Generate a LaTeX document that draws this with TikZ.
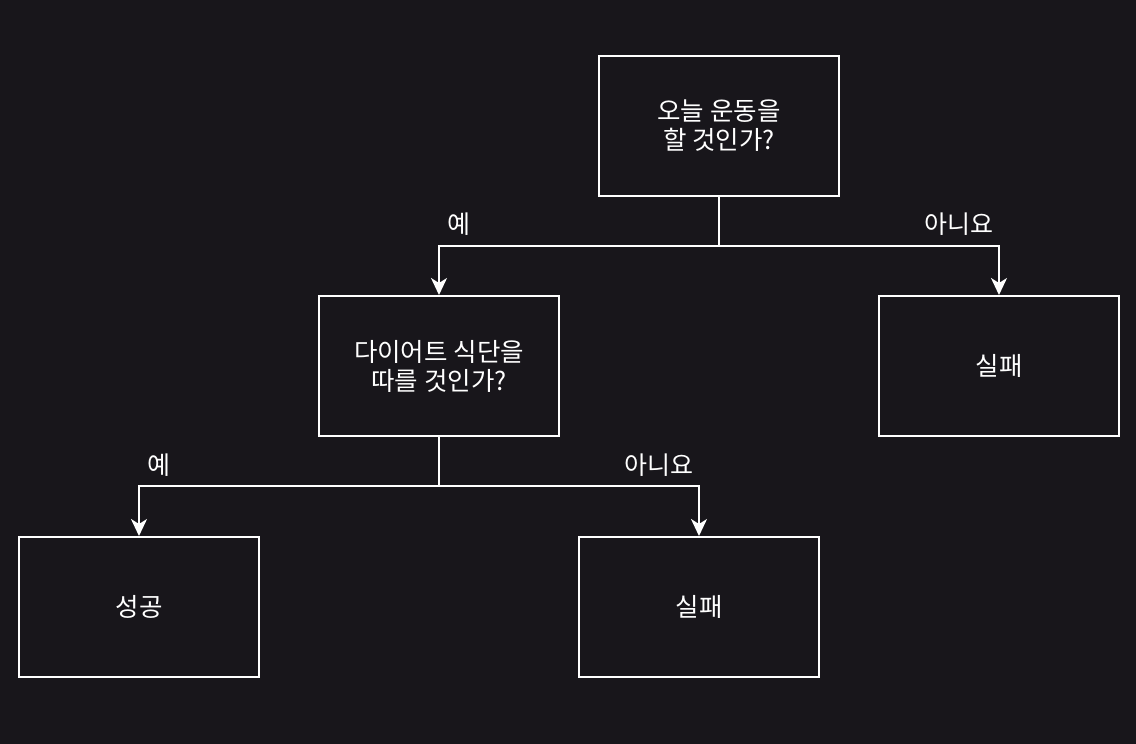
\documentclass[tikz,border=0pt]{standalone}
\usepackage{fontspec}
\setmainfont{Noto Sans CJK KR}
\usetikzlibrary{arrows.meta}
\definecolor{bg}{HTML}{18161B}
\begin{document}
\begin{tikzpicture}[x=1pt,y=-1pt,
  box/.style={draw=white,line width=2pt,minimum width=240pt,minimum height=140pt,inner sep=0pt,text=white,align=center,font=\fontsize{25.5}{29}\selectfont},
  lbl/.style={text=white,font=\fontsize{25}{29}\selectfont,inner sep=0pt},
  conn/.style={draw=white,line width=2pt,-{Stealth[length=17pt,width=16pt,inset=5pt]}}]
\fill[bg] (0,0) rectangle (1136,744);
\useasboundingbox (0,0) rectangle (1136,744);
\node[box] (q1) at (719,126) {오늘 운동을\\할 것인가?};
\node[box] (q2) at (439,366) {다이어트 식단을\\따를 것인가?};
\node[box] (f1) at (999,366) {실패};
\node[box] (s) at (139,607) {성공};
\node[box] (f2) at (699,607) {실패};
\coordinate (j1) at (719,246);
\coordinate (j2) at (439,486);
\draw[conn] (q1.south) -- (j1) -| (q2.north);
\draw[conn] (j1) -| (f1.north);
\draw[conn] (q2.south) -- (j2) -| (s.north);
\draw[conn] (j2) -| (f2.north);
\node[lbl] (l1) at (459,224) {예};
\node[lbl] (l2) at (959,224) {아니요};
\node[lbl] (l3) at (159,465) {예};
\node[lbl] (l4) at (659,465) {아니요};
\end{tikzpicture}
\end{document}
